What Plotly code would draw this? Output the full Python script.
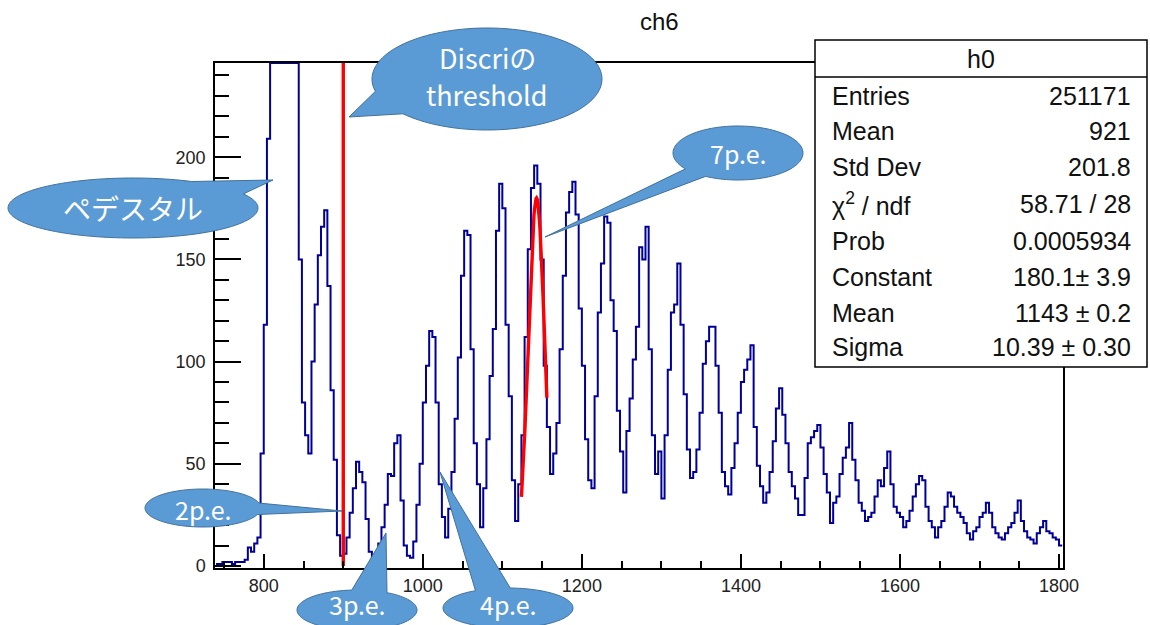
import numpy as np
import plotly.graph_objects as go

# ---------------- data ----------------
bin_start = 740
bin_width = 4
# bin contents, bin centres 742, 746, ..., 1802 (pedestal bins are off scale)
counts = [
    1, 1, 2, 2, 2, 1, 2, 2, 2, 3,                          # 742
    9, 7, 11, 14, 55, 118, 209, 900, 2400, 4100,           # 782
    4800, 4500, 3300, 1900, 900, 380, 150, 80, 64, 55,     # 822
    100, 128, 152, 166, 174, 137, 86, 52, 15, 5,           # 862
    6, 14, 26, 38, 51, 46, 41, 23, 7, 4,                   # 902
    6, 11, 19, 30, 45, 44, 60, 64, 32, 10,                 # 942
    5, 4, 12, 30, 50, 80, 98, 115, 112, 80,                # 982
    40, 24, 14, 28, 46, 72, 102, 142, 164, 162,            # 1022
    106, 60, 40, 19, 38, 62, 93, 116, 164, 187,            # 1062
    175, 118, 83, 42, 22, 40, 64, 112, 155, 185,           # 1102
    196, 187, 150, 98, 68, 45, 55, 70, 106, 142,           # 1142
    173, 183, 188, 172, 126, 98, 62, 42, 38, 83,           # 1182
    124, 148, 171, 168, 130, 115, 76, 56, 36, 66,          # 1222
    82, 101, 117, 156, 150, 166, 106, 64, 45, 56,          # 1262
    33, 64, 96, 124, 128, 148, 118, 84, 57, 43,            # 1302
    46, 57, 75, 99, 110, 117, 117, 98, 75, 46,             # 1342
    39, 35, 48, 60, 75, 90, 96, 101, 108, 68,              # 1382
    49, 39, 31, 36, 46, 61, 77, 87, 74, 60,                # 1422
    46, 39, 33, 25, 25, 43, 60, 63, 66, 69,                # 1462
    58, 45, 36, 21, 31, 34, 45, 53, 58, 70,                # 1502
    52, 42, 31, 27, 22, 24, 26, 34, 42, 39,                # 1542
    48, 56, 40, 29, 26, 24, 19, 22, 27, 34,                # 1582
    40, 44, 42, 29, 22, 19, 14, 19, 22, 29,                # 1622
    36, 34, 29, 26, 24, 21, 16, 13, 17, 19,                # 1662
    24, 26, 31, 26, 19, 16, 14, 13, 16, 19,                # 1702
    21, 26, 32, 22, 17, 14, 13, 11, 16, 19,                # 1742
    22, 17, 16, 14, 13, 10,                                # 1782
]

threshold = 900                 # Discri threshold
fit_constant = 180.1            # Gaussian fit parameters (stats box)
fit_mean = 1143.0
fit_sigma = 10.39
fit_range = [1124, 1156]

x_range = [738.7, 1805]
y_range = [-0.98, 246.1]

stats_labels = ["Entries", "Mean", "Std Dev", "χ<sup>2</sup> / ndf", "Prob",
                "Constant", "Mean", "Sigma"]
stats_values = ["251171", "921", "201.8", "58.71 / 28", "0.0005934",
                "180.1± 3.9", "1143 ± 0.2", "10.39 ± 0.30"]

callout_texts = [["Discriの", "threshold"], ["ペデスタル"], ["7p.e."], ["2p.e."],
                 ["3p.e."], ["4p.e."]]

# ---------------- layout helpers ----------------
W, H = 1150, 625
ML, MR, MT, MB = 215, 87, 63, 57
PW, PH = W - ML - MR, H - MT - MB


def px(xp):
    return (xp - ML) / PW


def py(yp):
    return (H - MB - yp) / PH


def callout_path(cx, cy, rx, ry, a1, a2, tip):
    angs = np.linspace(a2, a1 + 360, 120)
    pts = [(cx + rx * np.cos(np.radians(a)), cy + ry * np.sin(np.radians(a))) for a in angs]
    pts.append(tip)
    s = "M " + " L ".join(f"{px(x):.5f},{py(y):.5f}" for x, y in pts) + " Z"
    return s


edges = np.arange(bin_start, bin_start + bin_width * (len(counts) + 1), bin_width)
vals = np.array(counts, dtype=float)
y_draw = np.minimum(np.append(vals, vals[-1]), y_range[1])

fig = go.Figure()
fig.add_trace(go.Scatter(x=edges, y=y_draw, mode="lines", line_shape="hv",
                         line=dict(color="#000099", width=2), hoverinfo="skip"))

fx = np.linspace(fit_range[0], fit_range[1], 60)
fy = fit_constant * np.exp(-0.5 * ((fx - fit_mean) / fit_sigma) ** 2)
fig.add_trace(go.Scatter(x=fx, y=fy, mode="lines", line=dict(color="#ff0000", width=3.4),
                         hoverinfo="skip"))

fig.add_trace(go.Scatter(x=[threshold, threshold], y=[0, y_range[1]], mode="lines",
                         line=dict(color="#ff0000", width=3.4), hoverinfo="skip"))

shapes = []
annotations = []

# stats box
bx0, bx1, by0, by1 = 815, 1147, 40, 367
shapes.append(dict(type="rect", xref="paper", yref="paper", x0=px(bx0), x1=px(bx1),
                   y0=py(by1), y1=py(by0), fillcolor="white",
                   line=dict(color="black", width=1.5), layer="above"))
shapes.append(dict(type="line", xref="paper", yref="paper", x0=px(bx0), x1=px(bx1),
                   y0=py(77), y1=py(77), line=dict(color="black", width=1.5), layer="above"))
annotations.append(dict(text="h0", x=px(981), y=py(59), xref="paper", yref="paper",
                        showarrow=False, font=dict(family="Liberation Sans", size=25, color="#111"),
                        xanchor="center", yanchor="middle"))
row_y = [96, 131, 167, 204, 241, 277, 313, 347]
for lab, val, yy in zip(stats_labels, stats_values, row_y):
    annotations.append(dict(text=lab, x=px(830), y=py(yy), xref="paper", yref="paper",
                            showarrow=False, xanchor="left", yanchor="middle",
                            font=dict(family="Liberation Sans", size=25, color="#111")))
    annotations.append(dict(text=val, x=px(1133), y=py(yy), xref="paper", yref="paper",
                            showarrow=False, xanchor="right", yanchor="middle",
                            font=dict(family="Liberation Sans", size=25, color="#111")))

# callouts: (cx, cy, rx, ry, gap angle1, gap angle2, tip, text size, text line ys)
callouts = [
    (487, 79, 115, 51, 137, 166, (349, 117), 27, [58, 94]),
    (133, 208, 125, 30, -62, -28, (273, 180), 28, [208]),
    (738, 153, 65, 27, 120, 144, (545, 237), 25, [153]),
    (203, 508, 58, 19, -15, 20, (342, 511), 25, [509]),
    (357, 610, 60, 20, -95, -60, (386, 533), 25, [604]),
    (508, 608, 65, 20, -120, -88, (440, 472), 25, [604]),
]
for (cx, cy, rx, ry, a1, a2, tip, fs, tys), lines in zip(callouts, callout_texts):
    shapes.append(dict(type="path", xref="paper", yref="paper",
                       path=callout_path(cx, cy, rx, ry, a1, a2, tip),
                       fillcolor="#5B9BD5", line=dict(color="#41719C", width=1), layer="above"))
    for txt, ty in zip(lines, tys):
        annotations.append(dict(text=txt, x=px(cx), y=py(ty), xref="paper", yref="paper",
                                showarrow=False, xanchor="center", yanchor="middle",
                                font=dict(family="Noto Sans CJK JP", size=fs, color="white")))

annotations.append(dict(text="ch6", x=px(659), y=py(22), xref="paper", yref="paper",
                        showarrow=False, xanchor="center", yanchor="middle",
                        font=dict(family="Liberation Sans", size=24, color="#111")))

axis_common = dict(showline=True, linecolor="black", linewidth=1.5, mirror=True,
                   showgrid=False, zeroline=False, ticks="inside", tickcolor="black",
                   tickwidth=1.5, tickfont=dict(family="Liberation Sans", size=18, color="#222"))

fig.update_layout(
    width=W, height=H,
    margin=dict(l=ML, r=MR, t=MT, b=MB),
    paper_bgcolor="white", plot_bgcolor="white",
    showlegend=False,
    xaxis=dict(range=x_range, tick0=0, dtick=200, ticklen=14,
               minor=dict(dtick=50, ticklen=7, ticks="inside", tickcolor="black",
                          tickwidth=1.5, showgrid=False),
               ticklabelstandoff=1, **axis_common),
    yaxis=dict(range=y_range, tick0=0, dtick=50, ticklen=26,
               minor=dict(dtick=10, ticklen=14, ticks="inside", tickcolor="black",
                          tickwidth=1.5, showgrid=False),
               ticklabelstandoff=4, **axis_common),
    shapes=shapes,
    annotations=annotations,
)

fig.write_html("out.html")
